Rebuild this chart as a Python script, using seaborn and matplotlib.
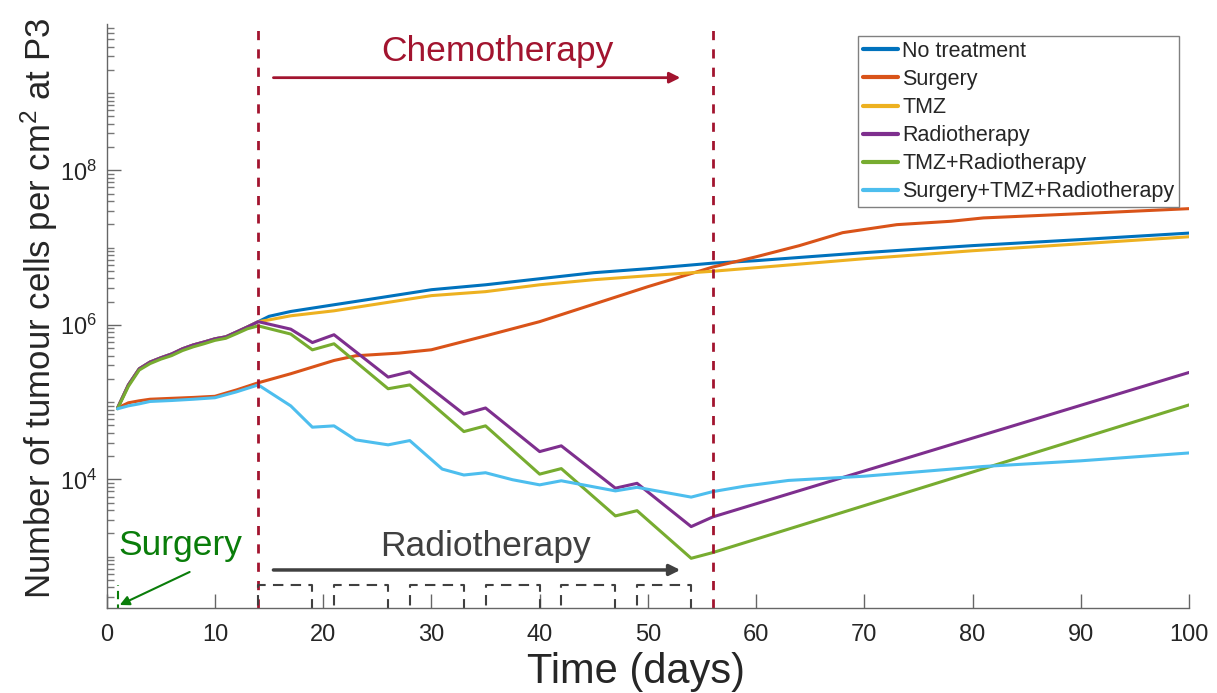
import numpy as np
import pandas as pd
import matplotlib.pyplot as plt
import seaborn as sns
from matplotlib.lines import Line2D
from matplotlib.ticker import LogLocator, NullFormatter

# ---- data (tumour cells per cm^2) ----
early_days = list(range(1, 15))
early_cells = [8.4e4, 1.67e5, 2.7e5, 3.3e5, 3.75e5, 4.2e5, 4.9e5,
               5.5e5, 6.0e5, 6.6e5, 7.0e5, 8.1e5, 9.4e5, 1.1e6]

late_days = [15, 17, 21, 24, 30, 35, 40, 45, 50, 56, 60, 70, 80, 90, 100]
no_treatment = [1.29e6, 1.49e6, 1.82e6, 2.11e6, 2.85e6, 3.3e6, 3.95e6, 4.73e6,
                5.33e6, 6.29e6, 6.77e6, 8.6e6, 1.06e7, 1.27e7, 1.54e7]
tmz = [1.16e6, 1.31e6, 1.52e6, 1.77e6, 2.39e6, 2.69e6, 3.3e6, 3.84e6,
       4.32e6, 4.94e6, 5.49e6, 7.18e6, 9.1e6, 1.12e7, 1.38e7]

surgery_days = [1, 2, 3, 4, 6, 8, 10, 12, 14, 17, 21, 23, 27, 30, 35, 40, 50,
                56, 60, 64, 68, 73, 78, 81, 90, 100]
surgery = [8.4e4, 9.8e4, 1.04e5, 1.09e5, 1.12e5, 1.15e5, 1.19e5, 1.44e5, 1.78e5,
           2.33e5, 3.46e5, 3.98e5, 4.31e5, 4.76e5, 7.2e5, 1.1e6, 3.12e6,
           5.6e6, 7.6e6, 1.06e7, 1.56e7, 1.98e7, 2.19e7, 2.42e7, 2.75e7, 3.19e7]

rt_days = [17, 19, 21, 26, 28, 33, 35, 40, 42, 47, 49, 54, 56, 100]
radiotherapy = [8.8e5, 5.9e5, 7.45e5, 2.11e5, 2.47e5, 7.0e4, 8.4e4, 2.29e4,
                2.72e4, 7.7e3, 8.9e3, 2.45e3, 3.27e3, 2.42e5]
tmz_rt_early = [8.2e4, 1.6e5, 2.6e5, 3.15e5, 3.6e5, 4.0e5, 4.65e5,
                5.2e5, 5.7e5, 6.3e5, 6.7e5, 7.7e5, 8.9e5, 9.7e5]
tmz_rt = [7.6e5, 4.75e5, 5.69e5, 1.49e5, 1.67e5, 4.16e4, 4.93e4, 1.17e4,
          1.38e4, 3.37e3, 3.94e3, 953, 1.13e3, 9.2e4]

all_days = [1, 2, 3, 4, 6, 8, 10, 12, 14, 17, 19, 21, 23, 26, 28, 31, 33, 35,
            37.5, 40, 42, 47, 49, 54, 56, 59, 63, 70, 81, 90, 100]
surg_tmz_rt = [8.2e4, 8.95e4, 9.5e4, 1.02e5, 1.05e5, 1.09e5, 1.14e5, 1.36e5,
               1.67e5, 8.95e4, 4.74e4, 4.93e4, 3.25e4, 2.8e4, 3.18e4, 1.36e4,
               1.14e4, 1.22e4, 9.9e3, 8.5e3, 9.6e3, 7.1e3, 7.9e3, 5.9e3,
               6.95e3, 8.2e3, 9.7e3, 1.1e4, 1.47e4, 1.74e4, 2.2e4]

# treatment schedules (on / off level drawn near the bottom of the axis)
sched_on, sched_off = 430, 1
rt_sched_days = [14, 14, 19, 19, 21, 21, 26, 26, 28, 28, 33, 33,
                 35, 35, 40, 40, 42, 42, 47, 47, 49, 49, 54, 54]
rt_sched = [sched_off, sched_on, sched_on, sched_off] * 6
surg_sched_days = [1, 1]
surg_sched = [sched_off, sched_on]
chemo_start, chemo_end = 14, 56

names = ['No treatment', 'Surgery', 'TMZ', 'Radiotherapy',
         'TMZ+Radiotherapy', 'Surgery+TMZ+Radiotherapy']
colors = ['#0072BD', '#D95319', '#EDB120', '#7E2F8E', '#77AC30', '#4DBEEE']

series = {
    'No treatment': (early_days + late_days, early_cells + no_treatment),
    'Surgery': (surgery_days, surgery),
    'TMZ': (early_days + late_days, early_cells + tmz),
    'Radiotherapy': (early_days + rt_days, early_cells + radiotherapy),
    'TMZ+Radiotherapy': (early_days + rt_days, tmz_rt_early + tmz_rt),
    'Surgery+TMZ+Radiotherapy': (all_days, surg_tmz_rt),
}
df = pd.concat([pd.DataFrame({'day': d, 'cells': v, 'treatment': n})
                for n, (d, v) in series.items()], ignore_index=True)

chemo_red = '#A2142F'
rt_grey = '#404040'
surg_green = '#0A7D0A'
txt = '#262626'

sns.set_theme(style='ticks')
plt.rcParams['font.family'] = ['Liberation Sans', 'DejaVu Sans']
plt.rcParams['mathtext.fontset'] = 'custom'
plt.rcParams['mathtext.rm'] = 'Liberation Sans'
plt.rcParams['mathtext.it'] = 'Liberation Sans:italic'
plt.rcParams['mathtext.bf'] = 'Liberation Sans:bold'

fig, ax = plt.subplots(figsize=(12.17, 6.93), dpi=100)
fig.subplots_adjust(left=0.0877, right=0.977, top=0.965, bottom=0.122)

sns.lineplot(data=df, x='day', y='cells', hue='treatment', hue_order=names,
             palette=dict(zip(names, colors)), estimator=None, linewidth=2.2,
             legend=False, ax=ax)
ax.set_yscale('log')

# chemotherapy window
for d in (chemo_start, chemo_end):
    ax.axvline(d, color=chemo_red, lw=2, ls=(0, (3.3, 3.3)))

# schedules
ax.plot(rt_sched_days, rt_sched, color=rt_grey, lw=1.5, ls=(0, (5, 3.5)))
ax.plot(surg_sched_days, surg_sched, color=surg_green, lw=1.5, ls=(0, (4, 2.5)))

# annotations
ax.text(36.1, 3.45e9, 'Chemotherapy', color=chemo_red, fontsize=25.5,
        ha='center', va='center')
ax.annotate('', xy=(53.0, 1.58e9), xytext=(15.4, 1.58e9),
            arrowprops=dict(arrowstyle='-|>', color=chemo_red, lw=2,
                            mutation_scale=16, shrinkA=0, shrinkB=0))
ax.text(35, 1336, 'Radiotherapy', color=rt_grey, fontsize=25.5,
        ha='center', va='center')
ax.annotate('', xy=(53.0, 673), xytext=(15.4, 673),
            arrowprops=dict(arrowstyle='-|>', color=rt_grey, lw=2.5,
                            mutation_scale=16, shrinkA=0, shrinkB=0))
ax.text(6.83, 1410, 'Surgery', color=surg_green, fontsize=25.5,
        ha='center', va='center')
ax.annotate('', xy=(1.2, 237), xytext=(7.66, 634),
            arrowprops=dict(arrowstyle='-|>', color=surg_green, lw=1.5,
                            mutation_scale=14, shrinkA=0, shrinkB=0))

# axes
ax.set_xlim(0, 100)
ax.set_ylim(10 ** 2.33, 10 ** 9.89)
ax.set_xticks(range(0, 101, 10))
ax.set_yticks([1e4, 1e6, 1e8])
ax.yaxis.set_minor_locator(LogLocator(base=10, subs=np.arange(1, 10), numticks=100))
ax.yaxis.set_minor_formatter(NullFormatter())
ax.tick_params(which='major', direction='in', length=10, width=1,
               color='#666666', labelsize=17, labelcolor=txt, pad=7)
ax.tick_params(axis='x', which='major', pad=11.5)
ax.tick_params(which='minor', direction='in', length=5, width=1, color='#777777')
ax.tick_params(axis='x', which='minor', length=0)
sns.despine(ax=ax)
for s in ('left', 'bottom'):
    ax.spines[s].set_color('#666666')
    ax.spines[s].set_linewidth(1)

ax.set_xlabel('Time (days)', fontsize=30, color=txt, labelpad=4)
ax.set_ylabel('Number of tumour cells per cm$^2$ at P3', fontsize=25, color=txt,
              labelpad=0)
ax.xaxis.label.set_x(0.489)
ax.yaxis.label.set_y(0.514)

handles = [Line2D([], [], color=c, lw=3) for c in colors]
leg = ax.legend(handles, names, loc='upper right', bbox_to_anchor=(0.991, 0.98),
                fontsize=15.5, frameon=True, fancybox=False, edgecolor='#808080',
                framealpha=1, handlelength=1.6, handletextpad=0.2, borderpad=0.23,
                labelspacing=0.33, borderaxespad=0)
leg.get_frame().set_linewidth(1)

fig.savefig('out.png', dpi=100)
